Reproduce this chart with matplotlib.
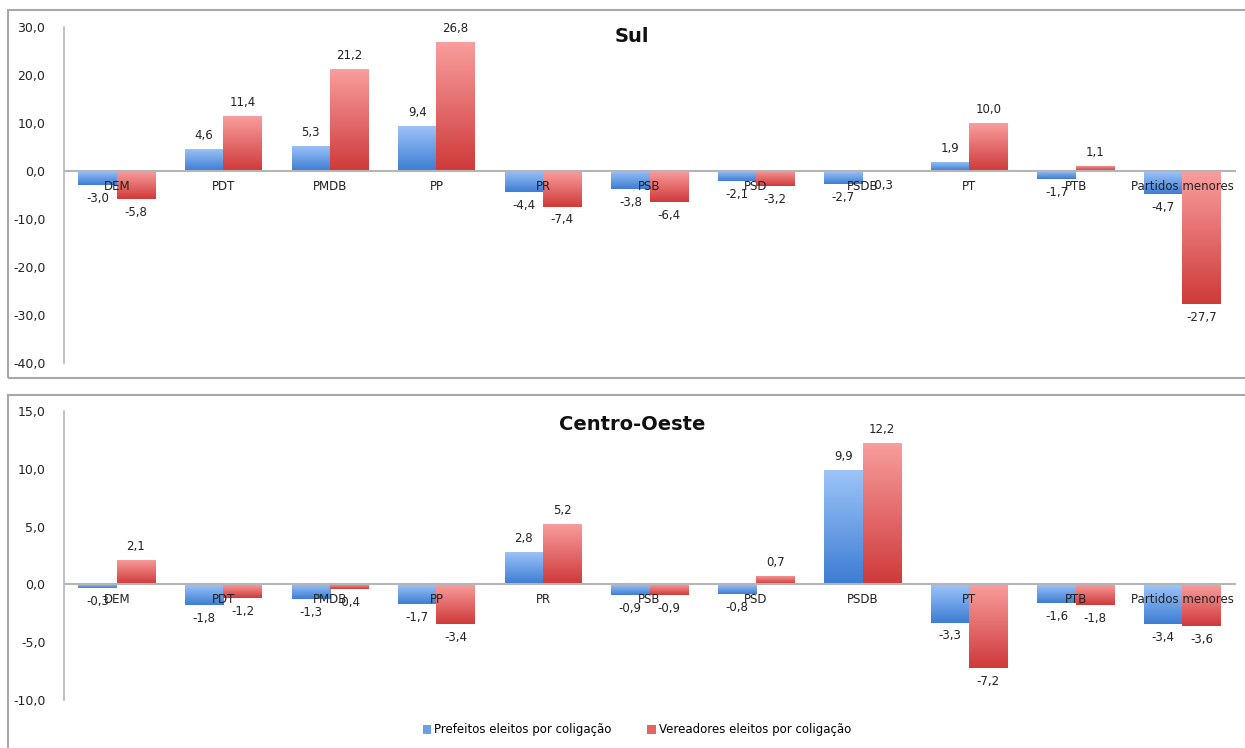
import numpy as np
import matplotlib
matplotlib.use("Agg")
import matplotlib.pyplot as plt
from matplotlib.patches import Rectangle, Patch
from matplotlib.colors import LinearSegmentedColormap

categories = ["DEM", "PDT", "PMDB", "PP", "PR", "PSB", "PSD", "PSDB", "PT", "PTB", "Partidos menores"]

sul_prefeitos = [-3.0, 4.6, 5.3, 9.4, -4.4, -3.8, -2.1, -2.7, 1.9, -1.7, -4.7]
sul_vereadores = [-5.8, 11.4, 21.2, 26.8, -7.4, -6.4, -3.2, -0.3, 10.0, 1.1, -27.7]

co_prefeitos = [-0.3, -1.8, -1.3, -1.7, 2.8, -0.9, -0.8, 9.9, -3.3, -1.6, -3.4]
co_vereadores = [2.1, -1.2, -0.4, -3.4, 5.2, -0.9, 0.7, 12.2, -7.2, -1.8, -3.6]

series_names = ["Prefeitos eleitos por coligação", "Vereadores eleitos por coligação"]
titles = ["Sul", "Centro-Oeste"]

sul_ticks = [30, 20, 10, 0, -10, -20, -30, -40]
co_ticks = [15, 10, 5, 0, -5, -10]

blue_cmap = LinearSegmentedColormap.from_list("b", ["#3D7DD3", "#9DC4F8"])
red_cmap = LinearSegmentedColormap.from_list("r", ["#CF3A3A", "#F99D9D"])
blue_mid = "#6A9FE6"
red_mid = "#E46464"

plt.rcParams['font.family'] = ['DejaVu Sans']

fig = plt.figure(figsize=(12.45, 7.48), dpi=100)

# panel frames
fig.patches.append(Rectangle((8/1245, (748-378)/748), 1.05, (378-10)/748,
                             transform=fig.transFigure, fill=False,
                             edgecolor="#A8A8A8", linewidth=1.5, zorder=0))
fig.patches.append(Rectangle((8/1245, -0.05), 1.05, 0.05 + (748-395)/748,
                             transform=fig.transFigure, fill=False,
                             edgecolor="#A8A8A8", linewidth=1.5, zorder=0))

ax1 = fig.add_axes([63.5/1245, (748-363)/748, 1172/1245, (363-27)/748])
ax2 = fig.add_axes([63.5/1245, (748-700)/748, 1172/1245, (700-411)/748])

def fmt(v):
    return f"{v:.1f}".replace(".", ",")

def draw(ax, pref, vere, ticks, ylim):
    x = np.arange(len(categories))
    w = 0.36
    b1 = ax.bar(x - w/2, pref, w, color=blue_mid, zorder=2)
    b2 = ax.bar(x + w/2, vere, w, color=red_mid, zorder=2)
    grad = np.linspace(0, 1, 100).reshape(-1, 1)
    for bars, cmap in ((b1, blue_cmap), (b2, red_cmap)):
        for p in bars:
            x0 = p.get_x(); wd = p.get_width()
            y0 = p.get_y(); h = p.get_height()
            lo, hi = min(y0, y0 + h), max(y0, y0 + h)
            im = ax.imshow(grad, extent=[x0, x0 + wd, lo, hi], origin="lower",
                           cmap=cmap, aspect="auto", zorder=3, interpolation="bilinear")
            im.set_clip_path(p)
    for bars, vals in ((b1, pref), (b2, vere)):
        for p, v in zip(bars, vals):
            cx = p.get_x() + p.get_width()/2
            if v >= 0:
                ax.annotate(fmt(v), (cx, v), xytext=(0, 5), textcoords="offset points",
                            ha="center", va="bottom", fontsize=8.5, color="#222222", zorder=5)
            else:
                ax.annotate(fmt(v), (cx, v), xytext=(0, -5), textcoords="offset points",
                            ha="center", va="top", fontsize=8.5, color="#222222", zorder=5)
    for i, c in enumerate(categories):
        ax.annotate(c, (i, 0), xytext=(0, -11), textcoords="offset points",
                    ha="center", va="center", fontsize=8.5, color="#222222", zorder=6)
    ax.axhline(0, color="#B5B5B5", linewidth=1.5, zorder=4)
    ax.set_xlim(-0.5, len(categories) - 0.5)
    ax.set_ylim(*ylim)
    ax.set_yticks(ticks)
    ax.set_yticklabels([fmt(t) for t in ticks], fontsize=9, color="#222222")
    ax.tick_params(axis="y", length=0, pad=13)
    ax.set_xticks([])
    for s in ("top", "right", "bottom"):
        ax.spines[s].set_visible(False)
    ax.spines["left"].set_color("#B5B5B5")
    ax.spines["left"].set_linewidth(1.2)
    ax.patch.set_alpha(0)

draw(ax1, sul_prefeitos, sul_vereadores, sul_ticks, (-40, 30))
draw(ax2, co_prefeitos, co_vereadores, co_ticks, (-10, 15))

fig.text(632/1245, 1 - 37/748, titles[0], ha="center", va="center",
         fontsize=14, fontweight="bold", color="#111111")
fig.text(632/1245, 1 - 424/748, titles[1], ha="center", va="center",
         fontsize=14, fontweight="bold", color="#111111")

handles = [Patch(facecolor=blue_mid, edgecolor="none"), Patch(facecolor=red_mid, edgecolor="none")]
fig.legend(handles, series_names, loc="center", bbox_to_anchor=(637/1245, 1 - 730/748),
           ncol=2, frameon=False, fontsize=8.5, handlelength=0.7, handleheight=0.7,
           handletextpad=0.3, columnspacing=3.0)

fig.savefig("out.png", dpi=100)
